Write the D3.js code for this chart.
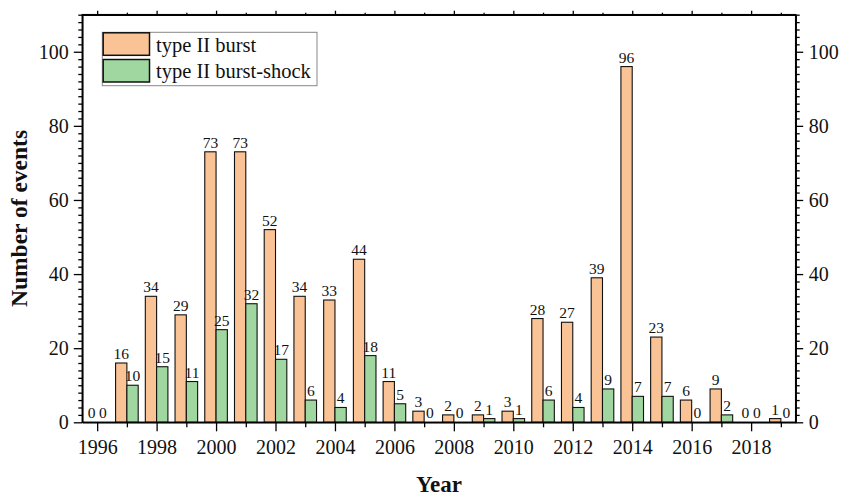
<!DOCTYPE html>
<html>
<head>
<meta charset="utf-8">
<script src="https://cdn.jsdelivr.net/npm/d3@7/dist/d3.min.js"></script>
<style>
  html, body { margin: 0; padding: 0; background: #fff; }
  svg { display: block; }
  text { font-family: "Liberation Serif", "Times New Roman", serif; fill: #111; }
</style>
</head>
<body>
<svg id="chart" width="842" height="497"></svg>
<script>
// ---- data ----
const years = [1996,1997,1998,1999,2000,2001,2002,2003,2004,2005,2006,2007,2008,2009,2010,2011,2012,2013,2014,2015,2016,2017,2018,2019];
const typeII = [0,16,34,29,73,73,52,34,33,44,11,3,2,2,3,28,27,39,96,23,6,9,0,1];
const typeIIShock = [0,10,15,11,25,32,17,6,4,18,5,0,0,1,1,6,4,9,7,7,0,2,0,0];
const seriesNames = ["type II burst", "type II burst-shock"];
const xTickLabels = [1996,1998,2000,2002,2004,2006,2008,2010,2012,2014,2016,2018];
const yTickLabels = [0,20,40,60,80,100];
const colors = ["#FAC395", "#A0D7A0"];

// ---- layout ----
const svg = d3.select("#chart");
const L = 82.3, R = 795.7, T = 14.7, B = 422.3;
const x = d3.scaleLinear().domain([1995.5, 2019.5]).range([L, R]);
const y = d3.scaleLinear().domain([0, 110]).range([B, T]);
const barW = x(1996.38) - x(1996);

const minorYears = years.filter(v => v % 2 === 1);
const minorY = d3.range(0, 111, 2).filter(v => v % 20 !== 0);

function styleAxis(g) {
  g.selectAll("path").attr("stroke", "#000").attr("stroke-width", 1.5);
  g.selectAll("line").attr("stroke", "#000").attr("stroke-width", 1.3);
  g.selectAll("text").style("font-family", '"Liberation Serif", serif').style("font-size", "20px").attr("fill", "#111");
}

// bars
const gBars = svg.append("g");
const series = [typeII, typeIIShock];
series.forEach((vals, si) => {
  gBars.selectAll(".b" + si).data(years).enter().append("rect")
    .attr("x", (d) => si === 0 ? x(d) - barW : x(d))
    .attr("y", (d, i) => y(vals[i]))
    .attr("width", barW)
    .attr("height", (d, i) => y(0) - y(vals[i]))
    .attr("fill", colors[si])
    .attr("stroke", "#111")
    .attr("stroke-width", 1.1);
  gBars.selectAll(".t" + si).data(years).enter().append("text")
    .attr("x", (d) => si === 0 ? x(d) - barW / 2 : x(d) + barW / 2)
    .attr("y", (d, i) => y(vals[i]) - 4)
    .attr("text-anchor", "middle")
    .style("font-size", "15.5px")
    .text((d, i) => vals[i]);
});

// bottom axis
svg.append("g").attr("transform", `translate(0,${B})`)
  .call(d3.axisBottom(x).tickValues(minorYears).tickSize(5).tickFormat("").tickSizeOuter(0))
  .call(g => g.select("path").remove())
  .call(styleAxis);
svg.append("g").attr("transform", `translate(0,${B})`)
  .call(d3.axisBottom(x).tickValues(xTickLabels).tickSize(9).tickPadding(9).tickFormat(d3.format("d")).tickSizeOuter(0))
  .call(styleAxis);

// top axis
svg.append("g").attr("transform", `translate(0,${T})`)
  .call(d3.axisTop(x).tickValues(minorYears).tickSize(2).tickFormat("").tickSizeOuter(0))
  .call(g => g.select("path").remove())
  .call(styleAxis);
svg.append("g").attr("transform", `translate(0,${T})`)
  .call(d3.axisTop(x).tickValues(xTickLabels).tickSize(4).tickFormat("").tickSizeOuter(0))
  .call(styleAxis);

// left axis
svg.append("g").attr("transform", `translate(${L},0)`)
  .call(d3.axisLeft(y).tickValues(minorY).tickSize(4).tickFormat("").tickSizeOuter(0))
  .call(g => g.select("path").remove())
  .call(styleAxis);
svg.append("g").attr("transform", `translate(${L},0)`)
  .call(d3.axisLeft(y).tickValues(yTickLabels).tickSize(8.5).tickPadding(5).tickFormat(d3.format("d")).tickSizeOuter(0))
  .call(styleAxis);

// right axis
svg.append("g").attr("transform", `translate(${R},0)`)
  .call(d3.axisRight(y).tickValues(minorY).tickSize(4).tickFormat("").tickSizeOuter(0))
  .call(g => g.select("path").remove())
  .call(styleAxis);
svg.append("g").attr("transform", `translate(${R},0)`)
  .call(d3.axisRight(y).tickValues(yTickLabels).tickSize(7.5).tickPadding(5.5).tickFormat(d3.format("d")).tickSizeOuter(0))
  .call(styleAxis);

// frame
svg.append("rect").attr("x", L).attr("y", T).attr("width", R - L).attr("height", B - T)
  .attr("fill", "none").attr("stroke", "#000").attr("stroke-width", 1.5);

// axis titles
svg.append("text")
  .attr("transform", `translate(27,${(T + B) / 2}) rotate(-90)`)
  .attr("text-anchor", "middle")
  .style("font-size", "23.5px").style("font-weight", "bold")
  .text("Number of events");
svg.append("text")
  .attr("x", (L + R) / 2).attr("y", 492)
  .attr("text-anchor", "middle")
  .style("font-size", "23px").style("font-weight", "bold")
  .text("Year");

// legend
const lg = svg.append("g");
lg.append("rect").attr("x", 102.3).attr("y", 32.3).attr("width", 214.7).attr("height", 53.4)
  .attr("fill", "#fff").attr("stroke", "#888").attr("stroke-width", 1);
seriesNames.forEach((name, i) => {
  const yy = i === 0 ? 32.8 : 59.5;
  lg.append("rect").attr("x", 103.2).attr("y", yy).attr("width", 46.3).attr("height", 22.5)
    .attr("fill", colors[i]).attr("stroke", "#111").attr("stroke-width", 1.5);
  lg.append("text").attr("x", 156).attr("y", i === 0 ? 51.7 : 77.5)
    .style("font-size", "20.5px").text(name);
});
</script>
</body>
</html>
